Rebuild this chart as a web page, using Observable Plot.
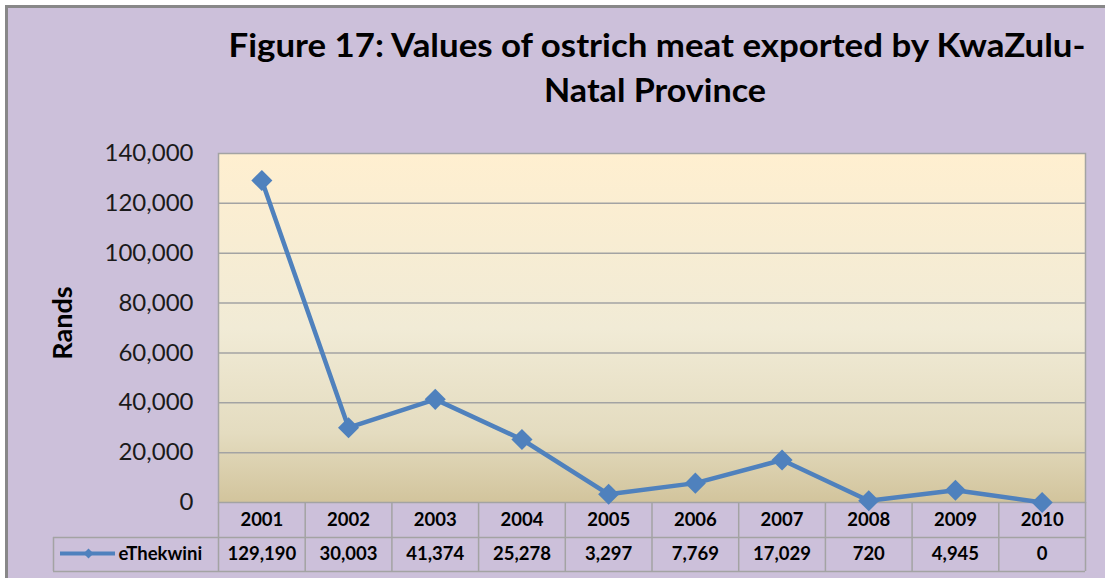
<!DOCTYPE html>
<html><head><meta charset="utf-8">
<script src="https://cdn.jsdelivr.net/npm/d3@7"></script>
<script src="https://cdn.jsdelivr.net/npm/@observablehq/plot@0.6"></script>
<style>
html,body{margin:0;padding:0;background:#fff;}
#page{position:relative;width:1105px;height:578px;overflow:hidden;background:#fff;font-family:Lato,sans-serif;}
#panel{position:absolute;left:5px;top:5px;width:1120px;height:600px;background:#CCC0DA;border-left:3px solid #888;border-top:3px solid #888;}
#title{position:absolute;left:0;top:0;}
#chart{position:absolute;left:0;top:140px;}
</style></head><body>
<div id="page"><div id="panel"></div><svg id="title" width="1105" height="140"></svg><div id="chart"></div></div>
<script>
const titleLines = ["Figure 17: Values of ostrich meat exported by KwaZulu-", "Natal Province"];
const yLabel = "Rands";
const seriesName = "eThekwini";
const years = [2001, 2002, 2003, 2004, 2005, 2006, 2007, 2008, 2009, 2010];
const values = [129190, 30003, 41374, 25278, 3297, 7769, 17029, 720, 4945, 0];
const yTicks = [0, 20000, 40000, 60000, 80000, 100000, 120000, 140000];

const data = years.map((year, i) => ({year, value: values[i]}));
const fmt = d3.format(",");
const blue = "#4F81BD";

// Title (above the plot SVG)
const tsvg = d3.select("#title");
const tl = [
  {x: 657, y: 57, len: 857},
  {x: 655, y: 102, len: 222}
];
titleLines.forEach((t, i) => {
  tsvg.append("text")
    .attr("x", tl[i].x).attr("y", tl[i].y)
    .attr("text-anchor", "middle")
    .attr("textLength", tl[i].len)
    .attr("lengthAdjust", "spacingAndGlyphs")
    .attr("font-family", "Lato, sans-serif")
    .attr("font-weight", "bold")
    .attr("font-size", 33)
    .attr("fill", "#000")
    .text(t);
});

const W = 1105, H = 438, mt = 13, mb = 76, ml = 218, mr = 20;
const frameH = H - mt - mb;
const bounds = years.map(y => y - 0.5).concat([years[years.length - 1] + 0.5]);
const gridCol = "#a3a3a3";

const plot = Plot.plot({
  width: W, height: H,
  marginTop: mt, marginBottom: mb, marginLeft: ml, marginRight: mr,
  style: {background: "transparent", fontFamily: "Lato, sans-serif", color: "#000", overflow: "visible"},
  x: {domain: [bounds[0], bounds[bounds.length - 1]], axis: null},
  y: {domain: [0, 140000], axis: null},
  marks: [
    Plot.frame({fill: "url(#plotbg)", stroke: gridCol, strokeWidth: 1.5}),
    Plot.ruleY(yTicks.slice(1, -1), {stroke: gridCol, strokeWidth: 1.5}),
    Plot.axisY(yTicks, {tickSize: 0, tickPadding: 25, tickFormat: fmt, fontSize: 24, fill: "#1a1a1a", label: null}),
    Plot.text([yLabel], {frameAnchor: "left", rotate: -90, dx: -155, dy: -5, fontSize: 27, fontWeight: "bold", textAnchor: "middle", lineAnchor: "middle"}),
    // data table grid
    Plot.ruleX(bounds, {insetTop: frameH, insetBottom: -69, stroke: gridCol, strokeWidth: 1.5}),
    Plot.ruleX([bounds[0]], {dx: -165, insetTop: frameH + 35, insetBottom: -69, stroke: gridCol, strokeWidth: 1.5}),
    Plot.ruleY([0], {dy: 35, insetLeft: -165, stroke: gridCol, strokeWidth: 1.5}),
    Plot.ruleY([0], {dy: 69, insetLeft: -165, stroke: gridCol, strokeWidth: 1.5}),
    // table texts
    Plot.text(data, {x: "year", text: d => String(d.year), frameAnchor: "bottom", dy: 18, lineAnchor: "middle", fontSize: 18.5, fontWeight: "bold"}),
    Plot.text(data, {x: "year", text: d => fmt(d.value), frameAnchor: "bottom", dy: 52, lineAnchor: "middle", fontSize: 18.5, fontWeight: "bold"}),
    // legend key in table
    Plot.ruleY([0], {dy: 51, insetLeft: -158, insetRight: (W - ml - mr) + 103, stroke: blue, strokeWidth: 4}),
    Plot.dot([seriesName], {frameAnchor: "bottom-left", dx: -130, dy: 51, symbol: "diamond2", r: 4.5, fill: blue}),
    Plot.text([seriesName], {frameAnchor: "bottom-left", dx: -100, dy: 52, textAnchor: "start", lineAnchor: "middle", fontSize: 18.5, fontWeight: "bold"}),
    // series
    Plot.line(data, {x: "year", y: "value", stroke: blue, strokeWidth: 4.5, strokeLinejoin: "round"}),
    Plot.dot(data, {x: "year", y: "value", symbol: "diamond2", r: 9.5, fill: blue})
  ]
});

const ns = "http://www.w3.org/2000/svg";
const defs = document.createElementNS(ns, "defs");
defs.innerHTML = `<linearGradient id="plotbg" x1="0" y1="0" x2="0" y2="1">
  <stop offset="0" stop-color="#FFEFD0"/>
  <stop offset="0.5" stop-color="#F1EBD6"/>
  <stop offset="0.8" stop-color="#E4DCC0"/>
  <stop offset="1" stop-color="#D2C49C"/>
</linearGradient>`;
plot.insertBefore(defs, plot.firstChild);
document.getElementById("chart").appendChild(plot);
</script>
</body></html>
